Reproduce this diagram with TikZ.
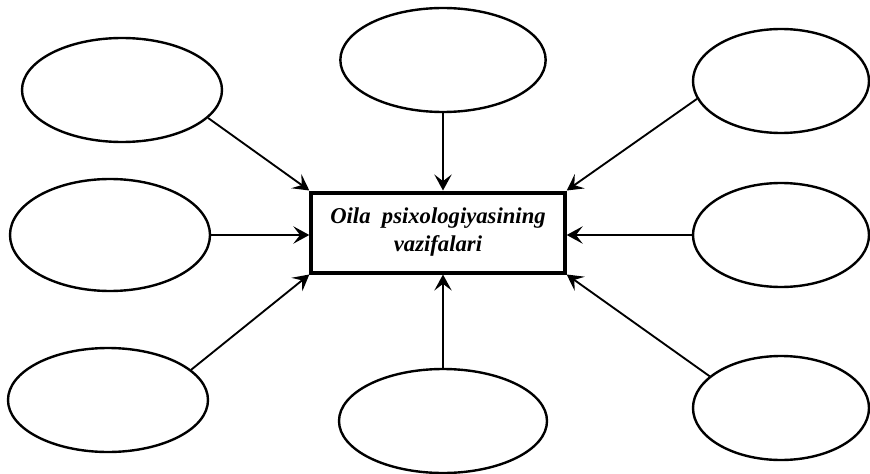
\documentclass[tikz,border=0pt]{standalone}
\usepackage{fontspec}
\setmainfont{Liberation Serif}
\usetikzlibrary{shapes.geometric,arrows.meta}
\tikzset{
    oval/.style={draw, ellipse, line width=1.8pt, minimum width=150pt, minimum height=78pt, inner sep=0pt},
    mainbox/.style={draw, line width=3pt, minimum width=190pt, minimum height=60pt, align=center,
        font=\fontsize{17}{21}\selectfont\bfseries\itshape},
    arr/.style={line width=1.4pt, -{Stealth[length=12pt,width=13pt,inset=5pt]}}
}
\begin{document}
\begin{tikzpicture}[x=0.75pt, y=-0.75pt]
    \useasboundingbox (0,0) rectangle (870,474);
    \node[mainbox] (box) at (438,232.5) {Oila\ \ psixologiyasining\\vazifalari};
    \node[oval] (tl) at (122,90) {};
    \node[oval, minimum height=84pt] (ml) at (110,235) {};
    \node[oval] (bl) at (108,400) {};
    \node[oval, minimum width=154pt] (tm) at (443,60) {};
    \node[oval, minimum width=156pt] (bm) at (443,421) {};
    \node[oval, minimum width=132pt] (tr) at (781,81) {};
    \node[oval, minimum width=132pt] (mr) at (781,235) {};
    \node[oval, minimum width=132pt] (br) at (781,408) {};
    \draw[arr] (tl.-18) -- (box.north west);
    \draw[arr] (ml.east) -- (box.west |- ml.east);
    \draw[arr] (bl.20) -- (box.south west);
    \draw[arr] (tm.south) -- (tm.south |- box.north);
    \draw[arr] (bm.north) -- (bm.north |- box.south);
    \draw[arr] (tr.192) -- (box.north east);
    \draw[arr] (mr.west) -- (box.east |- mr.west);
    \draw[arr] (br.156) -- (box.south east);
\end{tikzpicture}
\end{document}
